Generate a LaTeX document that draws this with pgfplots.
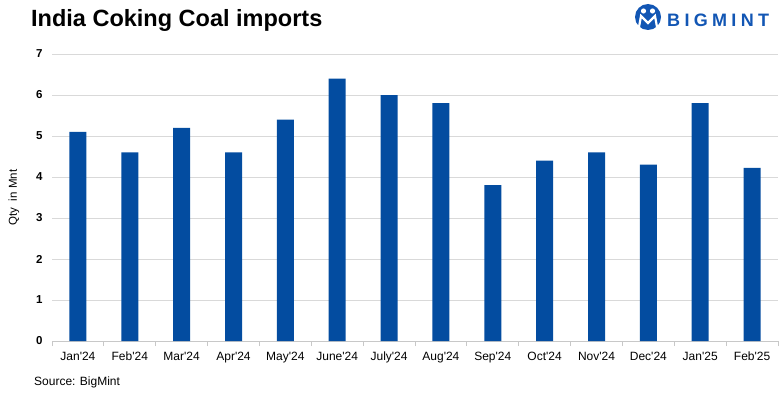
\documentclass[border=0pt]{standalone}
\usepackage{fontspec}
\setmainfont{Liberation Sans}
\usepackage{pgfplots}
\pgfplotsset{compat=1.18}
\definecolor{barblue}{RGB}{3,76,160}
\definecolor{logoblue}{RGB}{18,86,180}
\definecolor{gridgray}{RGB}{217,217,217}
\definecolor{axisgray}{RGB}{200,200,200}
\newcommand{\q}{\textquotesingle}
\begin{document}
\begin{tikzpicture}[x=1pt,y=1pt]
\path[use as bounding box] (0,0) rectangle (782,392);
\begin{axis}[
  at={(52pt,51pt)}, anchor=south west,
  scale only axis, width=726pt, height=287pt,
  xmin=-0.5, xmax=13.5, ymin=0, ymax=7,
  ytick={0,1,...,7},
  ymajorgrids, grid style={gridgray, line width=0.8pt},
  axis y line*=left, y axis line style={draw=none},
  axis x line*=bottom, x axis line style={axisgray, line width=0.8pt},
  xtick={0,...,13},
  xticklabels={Jan\q24,Feb\q24,Mar\q24,Apr\q24,May\q24,June\q24,July\q24,Aug\q24,Sep\q24,Oct\q24,Nov\q24,Dec\q24,Jan\q25,Feb\q25},
  major tick length=0pt,
  minor xtick={-0.5,0.5,...,13.5},
  minor tick length=5pt, tick align=outside,
  minor tick style={axisgray, line width=0.8pt},
  /pgf/number format/assume math mode=true,
  yticklabel style={font=\fontsize{11.5}{13}\selectfont\bfseries, xshift=-6pt},
  xticklabel style={font=\fontsize{12}{14}\selectfont, yshift=-7pt, text height=9pt, text depth=3pt},
  ylabel={Qty\ \ in Mnt}, ylabel style={font=\fontsize{11.5}{13}\selectfont, at={(-38pt,0.5)}, anchor=center},
  clip=false,
]
\addplot[ybar, bar width=17pt, fill=barblue, draw=none] coordinates {
(0,5.1) (1,4.6) (2,5.2) (3,4.6) (4,5.4) (5,6.4) (6,6.0) (7,5.8) (8,3.8) (9,4.4) (10,4.6) (11,4.3) (12,5.8) (13,4.22)
};
\end{axis}
\node[anchor=base west, font=\fontsize{23.5}{27}\selectfont\bfseries, inner sep=0pt] at (31,365) {India Coking Coal imports};
\node[anchor=base west, font=\fontsize{12}{14}\selectfont, inner sep=0pt] at (34,7) {Source: BigMint};
% logo
\fill[logoblue] (648,375) circle (13);
\fill[white] (643.5,381) circle (2.6);
\fill[white] (652.5,381) circle (2.6);
\draw[white, line width=2.2pt] (639,365) -- (641,376) -- (648,369) -- (655,376) -- (657,365);
\node[anchor=base west, font=\fontsize{18}{20}\selectfont\bfseries\addfontfeature{LetterSpace=24}, text=logoblue, inner sep=0pt] at (667,366) {BIGMINT};
\end{tikzpicture}
\end{document}
